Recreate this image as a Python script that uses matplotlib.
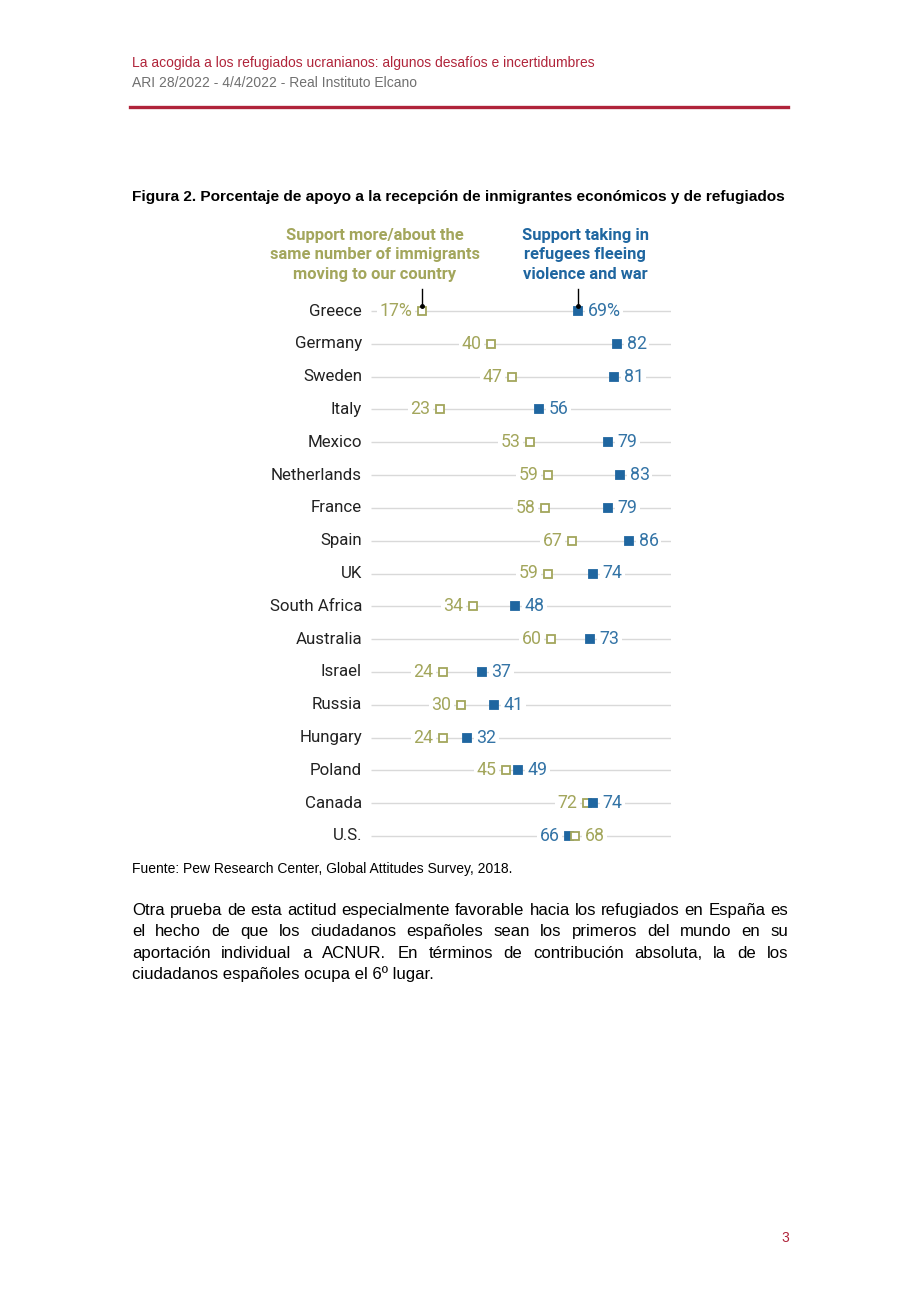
import matplotlib
matplotlib.use('Agg')
import matplotlib.pyplot as plt
from matplotlib.lines import Line2D

# --- data ---
countries = ['Greece', 'Germany', 'Sweden', 'Italy', 'Mexico', 'Netherlands', 'France',
             'Spain', 'UK', 'South Africa', 'Australia', 'Israel', 'Russia', 'Hungary',
             'Poland', 'Canada', 'U.S.']
immigrants = [17, 40, 47, 23, 53, 59, 58, 67, 59, 34, 60, 24, 30, 24, 45, 72, 68]
refugees = [69, 82, 81, 56, 79, 83, 79, 86, 74, 48, 73, 37, 41, 32, 49, 74, 66]

imm_label = 'Support more/about the\nsame number of immigrants\nmoving to our country'
ref_label = 'Support taking in\nrefugees fleeing\nviolence and war'

header1 = 'La acogida a los refugiados ucranianos: algunos desafíos e incertidumbres'
header2 = 'ARI 28/2022 - 4/4/2022 - Real Instituto Elcano'
fig_title = 'Figura 2. Porcentaje de apoyo a la recepción de inmigrantes económicos y de refugiados'
source = 'Fuente: Pew Research Center, Global Attitudes Survey, 2018.'
paragraph = [
    'Otra prueba de esta actitud especialmente favorable hacia los refugiados en España es',
    'el hecho de que los ciudadanos españoles sean los primeros del mundo en su',
    'aportación individual a ACNUR. En términos de contribución absoluta, la de los',
    'ciudadanos españoles ocupa el 6º lugar.',
]
page_no = '3'

# --- style ---
W, H = 920, 1302
RED = '#b0243a'
GREY_TXT = '#707070'
OLIVE = '#a3a65c'
BLUE = '#1f66a0'
BLUE_TXT = '#3474a6'
RULE = '#d9d9d9'
PAGE_FONT = 'Liberation Sans'
CHART_FONT = 'Roboto'

fig = plt.figure(figsize=(W / 100, H / 100), dpi=100)


def fx(px):
    return px / W


def fy(py):
    return 1 - py / H


# page header
fig.text(fx(132), fy(63), header1, color=RED, fontsize=10, family=PAGE_FONT, va='center')
fig.text(fx(132), fy(83), header2, color=GREY_TXT, fontsize=10, family=PAGE_FONT, va='center')
fig.add_artist(Line2D([fx(130), fx(788)], [fy(107), fy(107)], color=RED, lw=2.4))

fig.text(fx(132), fy(197), fig_title, fontsize=11.1, weight='bold', family=PAGE_FONT, va='center')

# chart axes: x 0..100 -> px 371..671, rows 32.8px apart starting at 311
ax = fig.add_axes([fx(371), fy(852.4), fx(671) - fx(371), (852.4 - 294.6) / H])
ax.set_xlim(0, 100)
ax.set_ylim(len(countries) - 0.5, -0.5)
ax.axis('off')

for i, name in enumerate(countries):
    ax.plot([0, 100], [i, i], color=RULE, lw=1, zorder=1, solid_capstyle='butt')
    ax.text(-3, i, name, ha='right', va='center', fontsize=12.2, family=CHART_FONT,
            color='#222222')
    a, b = immigrants[i], refugees[i]
    pct = '%' if i == 0 else ''
    items = [(a, OLIVE, 'white', OLIVE), (b, BLUE, BLUE, BLUE_TXT)]
    items.sort(key=lambda t: t[0])
    for k, (v, ec, fc, tc) in enumerate(items):
        ax.plot(v, i, marker='s', ms=6.3, mec=ec, mfc=fc, mew=1.3, zorder=3 + k)
        if k == 0:
            ax.text(v - 3.2, i, f'{v}{pct}', ha='right', va='center', fontsize=12.8,
                    family=CHART_FONT, color=tc, zorder=2,
                    bbox=dict(boxstyle='square,pad=0.15', fc='white', ec='none'))
        else:
            ax.text(v + 3.2, i, f'{v}{pct}', ha='left', va='center', fontsize=12.8,
                    family=CHART_FONT, color=tc, zorder=2,
                    bbox=dict(boxstyle='square,pad=0.15', fc='white', ec='none'))

# callouts from the legend headings down to Greece
for v in (immigrants[0], refugees[0]):
    ax.plot([v, v], [-0.68, -0.15], color='black', lw=1, clip_on=False, zorder=6)
    ax.plot(v, -0.15, marker='o', ms=2.5, color='black', clip_on=False, zorder=6)

fig.text(fx(375), fy(255), imm_label, color=OLIVE, fontsize=11.9, weight='bold',
         family=CHART_FONT, ha='center', va='center', linespacing=1.4)
fig.text(fx(585), fy(255), ref_label, color=BLUE, fontsize=11.9, weight='bold',
         family=CHART_FONT, ha='center', va='center', linespacing=1.4)

fig.text(fx(132), fy(869), source, fontsize=10, family=PAGE_FONT, va='center')

# justified paragraph (words placed on a common baseline)
renderer = fig.canvas.get_renderer()
left, right = 132, 788
for j, line in enumerate(paragraph):
    y = fy(915 + j * 21.3)
    words = line.split(' ')
    if j == len(paragraph) - 1:
        fig.text(fx(left), y, line, fontsize=12.05, family=PAGE_FONT, va='baseline')
        continue
    arts = [fig.text(0, y, w, fontsize=12.05, family=PAGE_FONT, va='baseline') for w in words]
    widths = [t.get_window_extent(renderer).width for t in arts]
    gap = (right - left - sum(widths)) / (len(words) - 1)
    x = left
    for t, w in zip(arts, widths):
        t.set_x(fx(x))
        x += w + gap

fig.text(fx(789), fy(1238), page_no, color=RED, fontsize=10, family=PAGE_FONT,
         ha='right', va='center')

fig.savefig('out.png', dpi=100)
